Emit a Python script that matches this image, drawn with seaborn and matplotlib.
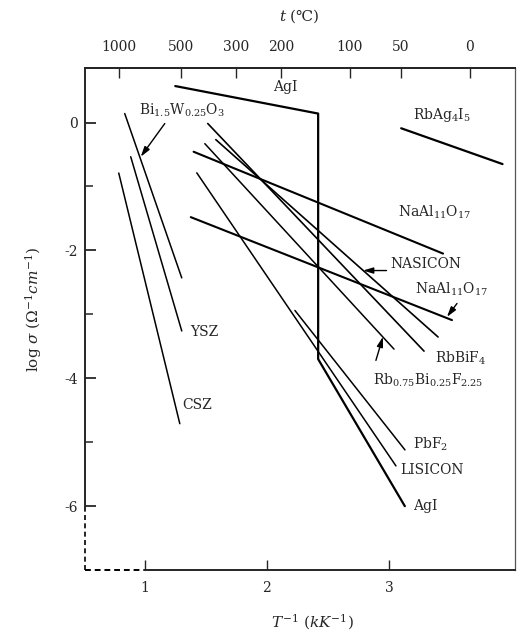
import numpy as np
import pandas as pd
import matplotlib
matplotlib.use("Agg")
import matplotlib.pyplot as plt
import seaborn as sns

# Arrhenius lines: T^-1 (kK^-1) vs log sigma
agi_x = [1.25, 2.42, 2.42, 3.13]
agi_y = [0.57, 0.14, -3.70, -6.00]
rbag4i5_x = [3.10, 3.93]
rbag4i5_y = [-0.09, -0.65]
biwo_x = [0.836, 1.303]
biwo_y = [0.14, -2.43]
ysz_x = [0.885, 1.303]
ysz_y = [-0.535, -3.26]
csz_x = [0.787, 1.287]
csz_y = [-0.79, -4.71]
naal_hi_x = [1.40, 3.443]
naal_hi_y = [-0.457, -2.05]
naal_lo_x = [1.377, 3.516]
naal_lo_y = [-1.48, -3.09]
nasicon_x = [1.582, 3.402]
nasicon_y = [-0.268, -3.354]
rbbif4_x = [1.516, 3.287]
rbbif4_y = [-0.016, -3.575]
rbbif_x = [1.492, 3.041]
rbbif_y = [-0.331, -3.543]
pbf2_x = [2.23, 3.131]
pbf2_y = [-2.94, -5.12]
lisicon_x = [1.426, 3.057]
lisicon_y = [-0.787, -5.37]

top_ticks_c = [1000, 500, 300, 200, 100, 50, 0]
y_major = [-6, -4, -2, 0]
y_minor = [-5, -3, -1]
x_major = [1, 2, 3]

lines = [
    (agi_x, agi_y, 1.6),
    (rbag4i5_x, rbag4i5_y, 1.6),
    (biwo_x, biwo_y, 1.1),
    (ysz_x, ysz_y, 1.1),
    (csz_x, csz_y, 1.1),
    (naal_hi_x, naal_hi_y, 1.5),
    (naal_lo_x, naal_lo_y, 1.5),
    (nasicon_x, nasicon_y, 1.2),
    (rbbif4_x, rbbif4_y, 1.2),
    (rbbif_x, rbbif_y, 1.1),
    (pbf2_x, pbf2_y, 1.1),
    (lisicon_x, lisicon_y, 1.1),
]

sns.set_style("ticks")
plt.rcParams["font.family"] = ["DejaVu Serif", "DejaVu Sans", "Noto Sans CJK SC"]
plt.rcParams["mathtext.fontset"] = "dejavuserif"

fig = plt.figure(figsize=(5.21, 6.37), dpi=100)
ax = fig.add_axes([0.163, 0.105, 0.825, 0.788])

for xs, ys, lw in lines:
    df = pd.DataFrame({"x": xs, "y": ys})
    sns.lineplot(data=df, x="x", y="y", sort=False, estimator=None,
                 color="black", lw=lw, ax=ax)

ax.set_xlim(0.51, 4.03)
ax.set_ylim(-7.0, 0.85)

# labels (left edge, centre height)
fs = 10
ax.text(2.15, 0.55, "AgI", ha="center", va="center", fontsize=fs)
ax.text(3.20, 0.12, "RbAg$_4$I$_5$", va="center", fontsize=fs)
ax.text(0.95, 0.19, "Bi$_{1.5}$W$_{0.25}$O$_3$", va="center", fontsize=fs)
ax.text(3.07, -1.40, "NaAl$_{11}$O$_{17}$", va="center", fontsize=fs)
ax.text(3.01, -2.21, "NASICON", va="center", fontsize=fs)
ax.text(3.21, -2.61, "NaAl$_{11}$O$_{17}$", va="center", fontsize=fs)
ax.text(3.38, -3.69, "RbBiF$_4$", va="center", fontsize=fs)
ax.text(2.87, -4.03, "Rb$_{0.75}$Bi$_{0.25}$F$_{2.25}$", va="center", fontsize=fs)
ax.text(3.20, -5.04, "PbF$_2$", va="center", fontsize=fs)
ax.text(3.09, -5.43, "LISICON", va="center", fontsize=fs)
ax.text(3.20, -6.00, "AgI", va="center", fontsize=fs)
ax.text(1.37, -3.28, "YSZ", va="center", fontsize=fs)
ax.text(1.31, -4.41, "CSZ", va="center", fontsize=fs)

arrow = dict(arrowstyle="-|>,head_length=0.6,head_width=0.18", color="black",
             lw=1.0, shrinkA=0, shrinkB=0)
ax.annotate("", xy=(0.967, -0.535), xytext=(1.164, -0.016), arrowprops=arrow)
ax.annotate("", xy=(2.787, -2.315), xytext=(2.98, -2.315), arrowprops=arrow)
ax.annotate("", xy=(3.475, -3.04), xytext=(3.557, -2.83), arrowprops=arrow)
ax.annotate("", xy=(2.951, -3.35), xytext=(2.893, -3.72), arrowprops=arrow)

# axes frame: broken (dashed) corner at lower left
ax.spines["left"].set_bounds(-6, 0.85)
ax.spines["bottom"].set_bounds(1, 4.03)
for s in ["left", "bottom", "top"]:
    ax.spines[s].set_linewidth(1.4)
ax.spines["right"].set_linewidth(0.9)
ax.spines["right"].set_color("#555555")
ax.plot([0.51, 0.51], [-7.0, -6.0], color="black", lw=1.2, ls=(0, (3, 2)), clip_on=False)
ax.plot([0.51, 1.0], [-7.0, -7.0], color="black", lw=1.4, ls=(0, (3, 2)), clip_on=False)

ax.set_yticks(y_major)
ax.set_yticks(y_minor, minor=True)
ax.set_yticklabels([str(v) for v in y_major])
ax.set_xticks(x_major)
ax.set_xticklabels([str(v) for v in x_major])
ax.tick_params(axis="y", which="major", direction="in", length=8, width=1.3, pad=5, labelsize=10)
ax.tick_params(axis="y", which="minor", direction="in", length=6, width=1.1)
ax.tick_params(axis="x", which="major", direction="in", length=7, width=1.0, pad=8, labelsize=10)

top = ax.secondary_xaxis("top", functions=(lambda x: 1000.0 / np.maximum(x, 1e-6) - 273.15,
                                            lambda t: 1000.0 / (t + 273.15)))
top.set_xticks(top_ticks_c)
top.set_xticklabels([str(v) for v in top_ticks_c])
top.tick_params(direction="in", length=7, width=1.0, pad=10, labelsize=10)
top.spines["top"].set_linewidth(1.4)
top.set_xlabel("$t$ (℃)", fontsize=11, labelpad=14)

ax.set_xlabel("$T^{-1}$ ($kK^{-1}$)", fontsize=11)
ax.xaxis.set_label_coords(0.53, -0.085)
ax.set_ylabel("log $\\sigma$ ($\\Omega^{-1}cm^{-1}$)", fontsize=11)
ax.yaxis.set_label_coords(-0.095, 0.52)

fig.savefig("out.png", dpi=100)
